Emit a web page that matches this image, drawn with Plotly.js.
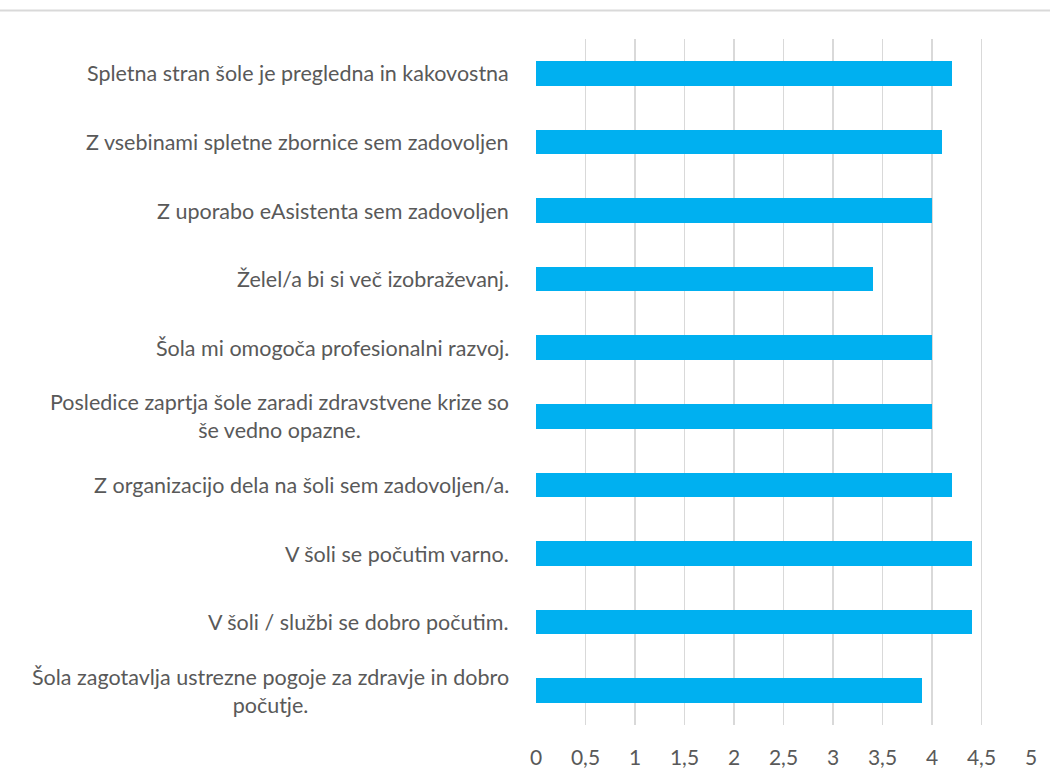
<!DOCTYPE html>
<html>
<head>
<meta charset="utf-8">
<script src="https://cdn.plot.ly/plotly-3.0.1.min.js"></script>
<style>
  html, body { margin: 0; padding: 0; background: #fff; }
  #chart { width: 1050px; height: 780px; }
</style>
</head>
<body>
<div id="chart"></div>
<script>
// Survey statements, top to bottom as shown
const statements = [
    "Spletna stran šole je pregledna in kakovostna",
    "Z vsebinami spletne zbornice sem zadovoljen",
    "Z uporabo eAsistenta sem zadovoljen",
    "Želel/a bi si več izobraževanj.",
    "Šola mi omogoča profesionalni razvoj.",
    "Posledice zaprtja šole zaradi zdravstvene krize so<br>še vedno opazne.",
    "Z organizacijo dela na šoli sem zadovoljen/a.",
    "V šoli se počutim varno.",
    "V šoli / službi se dobro počutim.",
    "Šola zagotavlja ustrezne pogoje za zdravje in dobro<br>počutje."
];

// Average scores
const scores = [4.2, 4.1, 4.0, 3.4, 4.0, 4.0, 4.2, 4.4, 4.4, 3.9];

const textColor = "#595959";
const gridColor = "#d9d9d9";
const fontFamily = "Lato, 'Open Sans', sans-serif";

const data = [
    {
        type: "bar",
        orientation: "h",
        x: scores,
        y: statements,
        width: 0.36,
        marker: { color: "#00b0f0" },
        hoverinfo: "x+y",
    },
];

// Category labels as annotations so wrapped lines are centred
const labelNotes = statements.map(s => ({
    text: s,
    xref: "paper",
    yref: "y",
    x: -0.05,
    y: s,
    xanchor: "right",
    yanchor: "middle",
    align: "center",
    showarrow: false,
    font: { family: fontFamily, size: 21.5, color: textColor },
}));

const layout = {
    width: 1050,
    height: 780,
    margin: { l: 536, r: 19, t: 39, b: 55 },
    paper_bgcolor: "#fff",
    plot_bgcolor: "#fff",
    separators: ", ",
    showlegend: false,
    bargap: 0,
    font: { family: fontFamily, size: 21.5, color: textColor },
    xaxis: {
        range: [0, 5],
        dtick: 0.5,
        tick0: 0,
        showgrid: true,
        gridcolor: gridColor,
        gridwidth: 1.3,
        zeroline: false,
        showline: false,
        ticks: "outside",
        ticklen: 14,
        tickcolor: "rgba(0,0,0,0)",
        tickfont: { family: fontFamily, size: 21, color: textColor },
        fixedrange: true,
    },
    yaxis: {
        autorange: "reversed",
        showticklabels: false,
        showgrid: false,
        zeroline: false,
        showline: false,
        ticks: "",
        fixedrange: true,
    },
    annotations: labelNotes,
    shapes: [
        {
            type: "line",
            xref: "paper",
            yref: "paper",
            x0: -1.09,
            x1: 1.04,
            y0: 1.0415,
            y1: 1.0415,
            line: { color: gridColor, width: 2 },
        },
    ],
};

Plotly.newPlot("chart", data, layout, { displayModeBar: false, staticPlot: true });
</script>
</body>
</html>
